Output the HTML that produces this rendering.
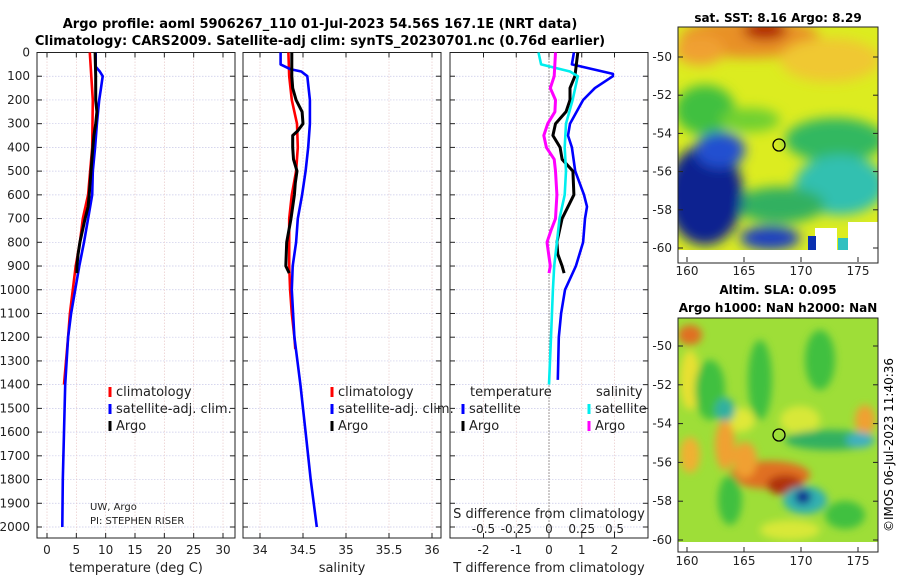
<!DOCTYPE html>
<html><head><meta charset="utf-8"><style>
body{margin:0;background:#fff;}
svg{display:block;font-family:"DejaVu Sans","Liberation Sans",sans-serif;}
</style></head><body>
<svg id="c" width="900" height="580" viewBox="0 0 900 580">
<defs>
<filter id="bl" x="-20%" y="-20%" width="140%" height="140%"><feGaussianBlur stdDeviation="6"/></filter>
<filter id="bl2" x="-20%" y="-20%" width="140%" height="140%"><feGaussianBlur stdDeviation="4"/></filter>
<clipPath id="m1"><rect x="678" y="27" width="200" height="223"/></clipPath>
<clipPath id="m2"><rect x="678" y="318" width="200" height="224"/></clipPath>
</defs>
<text x="320" y="28" text-anchor="middle" font-weight="bold" font-size="13">Argo profile: aoml 5906267_110 01-Jul-2023 54.56S 167.1E (NRT data)</text>
<text x="320" y="45" text-anchor="middle" font-weight="bold" font-size="13">Climatology: CARS2009. Satellite-adj clim: synTS_20230701.nc (0.76d earlier)</text>

<g id="maps">
<text x="778" y="22" text-anchor="middle" font-weight="bold" font-size="12">sat. SST: 8.16 Argo: 8.29</text>
<g clip-path="url(#m1)">
<rect x="678" y="27" width="200" height="223" fill="#dcec20"/>
<g filter="url(#bl)">
<ellipse cx="750" cy="38" rx="70" ry="20" fill="#e89028"/>
<ellipse cx="765" cy="30" rx="22" ry="10" fill="#b02000"/>
<ellipse cx="700" cy="50" rx="25" ry="15" fill="#f0a030"/>
<ellipse cx="830" cy="60" rx="50" ry="22" fill="#f0c830"/>
<ellipse cx="705" cy="110" rx="30" ry="25" fill="#40c040"/>
<ellipse cx="835" cy="140" rx="50" ry="22" fill="#30b860"/>
<ellipse cx="840" cy="185" rx="45" ry="30" fill="#30c0b0"/>
<ellipse cx="780" cy="205" rx="45" ry="18" fill="#30b060"/>
<ellipse cx="705" cy="195" rx="38" ry="50" fill="#0a2090"/>
<ellipse cx="720" cy="150" rx="25" ry="18" fill="#2050d0"/>
<ellipse cx="770" cy="238" rx="30" ry="12" fill="#1a40c0"/>
<ellipse cx="750" cy="120" rx="30" ry="12" fill="#70d030"/>
</g>
<rect x="815" y="228" width="22" height="22" fill="#fff"/>
<rect x="848" y="222" width="30" height="28" fill="#fff"/>
<rect x="838" y="238" width="10" height="12" fill="#30c0c0"/>
<rect x="808" y="236" width="8" height="14" fill="#0a30b0"/>
</g>
<rect x="678" y="27" width="200" height="236" fill="none" stroke="#222"/>
<circle cx="779" cy="145" r="6" fill="none" stroke="#000" stroke-width="1.3"/>
<text x="778" y="294" text-anchor="middle" font-weight="bold" font-size="12">Altim. SLA: 0.095</text>
<text x="778" y="312" text-anchor="middle" font-weight="bold" font-size="12">Argo h1000: NaN h2000: NaN</text>
<g clip-path="url(#m2)">
<rect x="678" y="318" width="200" height="224" fill="#9ede38"/>
<g filter="url(#bl2)">
<ellipse cx="690" cy="335" rx="12" ry="10" fill="#e07020"/>
<ellipse cx="690" cy="380" rx="10" ry="30" fill="#e8e030"/>
<ellipse cx="740" cy="420" rx="15" ry="12" fill="#e0e838"/>
<ellipse cx="800" cy="420" rx="20" ry="14" fill="#d8e838"/>
<ellipse cx="710" cy="390" rx="15" ry="30" fill="#40c040"/>
<ellipse cx="725" cy="410" rx="10" ry="12" fill="#30b0a0"/>
<ellipse cx="760" cy="380" rx="12" ry="40" fill="#40c040"/>
<ellipse cx="820" cy="360" rx="15" ry="30" fill="#40c040"/>
<ellipse cx="865" cy="420" rx="10" ry="15" fill="#f0a030"/>
<ellipse cx="830" cy="440" rx="45" ry="10" fill="#30b060"/>
<ellipse cx="860" cy="440" rx="14" ry="8" fill="#40b0c0"/>
<ellipse cx="770" cy="475" rx="40" ry="14" fill="#e07020"/>
<ellipse cx="785" cy="485" rx="18" ry="10" fill="#b03010"/>
<ellipse cx="745" cy="460" rx="12" ry="18" fill="#f0a030"/>
<ellipse cx="725" cy="445" rx="10" ry="25" fill="#f0a030"/>
<ellipse cx="805" cy="500" rx="22" ry="14" fill="#30b0b0"/>
<ellipse cx="803" cy="497" rx="8" ry="7" fill="#102090"/>
<ellipse cx="730" cy="500" rx="12" ry="25" fill="#40c040"/>
<ellipse cx="690" cy="455" rx="10" ry="18" fill="#f0b030"/>
<ellipse cx="845" cy="515" rx="20" ry="14" fill="#40c040"/>
<ellipse cx="790" cy="530" rx="30" ry="10" fill="#d8e838"/>
</g>
</g>
<rect x="678" y="318" width="200" height="234" fill="none" stroke="#222"/>
<circle cx="779" cy="435" r="6" fill="none" stroke="#000" stroke-width="1.3"/>
<text transform="translate(893,445) rotate(-90)" text-anchor="middle" font-size="12">©IMOS 06-Jul-2023 11:40:36</text>
</g>
<g id="axes"></g>
</svg>
<script>
// ---- data ----
const depthTicks = [0,100,200,300,400,500,600,700,800,900,1000,1100,1200,1300,1400,1500,1600,1700,1800,1900,2000];
const tempTicks = [0,5,10,15,20,25,30];
const salTicks = [34,34.5,35,35.5,36];
const salTickLabels = ["34","34.5","35","35.5","36"];
const tdiffTicks = [-2,-1,0,1,2];
const sdiffTickLabels = ["-0.5","-0.25","0","0.25","0.5"];
const sdiffTicks = [-0.5,-0.25,0,0.25,0.5];

const climTempDepth = [0,200,400,600,700,800,900,1000,1100,1200,1400];
const climTemp = [7.3,7.8,7.7,7.0,6.1,5.6,4.9,4.4,3.9,3.6,2.9];
const satTempDepth = [0,60,80,100,150,200,300,400,500,600,700,800,900,1000,1100,1200,1400,1600,1800,2000];
const satTemp = [8.3,8.3,9.0,9.5,9.2,8.9,8.5,8.2,7.8,7.7,7.0,6.3,5.5,4.8,4.1,3.6,3.1,2.9,2.7,2.6];
const argoTempDepth = [0,100,200,250,300,350,400,500,600,650,700,800,850,900,930];
const argoTemp = [8.2,8.3,8.3,8.5,8.3,8.0,7.8,7.5,7.2,7.0,6.5,5.6,5.3,5.1,5.1];

const climSalDepth = [0,100,200,300,400,500,600,700,800,900,1000,1100,1200,1250];
const climSal = [34.33,34.34,34.37,34.43,34.44,34.42,34.37,34.34,34.34,34.34,34.35,34.37,34.40,34.41];
const satSalDepth = [0,50,70,80,100,200,300,400,500,600,700,800,900,1000,1200,1400,1600,1800,2000];
const satSal = [34.24,34.24,34.35,34.48,34.55,34.58,34.58,34.56,34.53,34.49,34.44,34.42,34.38,34.37,34.40,34.47,34.53,34.59,34.66];
const argoSalDepth = [0,100,150,200,250,300,330,350,400,450,500,550,600,700,800,900,930];
const argoSal = [34.37,34.37,34.38,34.42,34.49,34.50,34.44,34.38,34.38,34.39,34.43,34.41,34.40,34.36,34.31,34.30,34.34];

const satTdiffDepth = [0,50,90,100,150,200,300,350,400,500,600,650,700,800,900,1000,1100,1200,1380];
const satTdiff = [0.76,0.7,1.95,1.95,1.4,1.04,0.64,0.58,0.7,0.8,1.07,1.16,1.1,1.04,0.82,0.49,0.37,0.3,0.27];
const argoTdiffDepth = [0,100,150,200,250,300,350,400,450,500,600,700,800,850,900,930];
const argoTdiff = [0.88,0.79,0.64,0.64,0.52,0.2,0.12,0.34,0.4,0.73,0.76,0.4,0.24,0.27,0.4,0.46];
const satSdiffDepth = [0,50,80,100,200,300,400,500,600,700,800,900,1000,1200,1400];
const satSdiff = [-0.08,-0.06,0.16,0.22,0.18,0.13,0.12,0.13,0.12,0.08,0.06,0.04,0.03,0.015,0.0];
const argoSdiffDepth = [0,100,150,200,250,300,350,400,450,500,600,700,750,800,900,930];
const argoSdiff = [0.05,0.04,0.01,0.05,0.045,-0.01,-0.04,-0.02,0.04,0.05,0.06,0.05,0.015,-0.015,0.01,0.0];

// ---- layout ----
const NS="http://www.w3.org/2000/svg";
const g=document.getElementById('axes');
const yTop=52.5, yBot=527;
const yS=d=>yTop+(yBot-yTop)*d/2000;
const panels=[
 {x0:37,x1:235,sx:v=>47+v*5.867,name:'temperature-panel'},
 {x0:243,x1:441,sx:v=>260+(v-34)*86,name:'salinity-panel'},
 {x0:450,x1:648,sx:v=>549+v*32.75,name:'difference-panel'}
];
const sxS=v=>549+v*131;
function el(t,a,p){const e=document.createElementNS(NS,t);for(const k in a)e.setAttribute(k,a[k]);(p||g).appendChild(e);return e;}
function txt(x,y,s,anchor,size,p){const e=el('text',{x:x,y:y,'text-anchor':anchor||'middle','font-size':size||12,fill:'#222'},p);e.textContent=s;return e;}

panels.forEach((P,i)=>{
 const pg=el('g',{});
 
 
 const ticks=i==0?tempTicks:i==1?salTicks:tdiffTicks;
 depthTicks.forEach(d=>{el('line',{x1:P.x0,x2:P.x1,y1:yS(d),y2:yS(d),stroke:'#c8c8e8','stroke-width':0.7,'stroke-dasharray':'1.5,1.5'},pg);
   el('line',{x1:P.x0,x2:P.x0+5,y1:yS(d),y2:yS(d),stroke:'#222'},pg);el('line',{x1:P.x1,x2:P.x1-5,y1:yS(d),y2:yS(d),stroke:'#222'},pg);});
 ticks.forEach(t=>{const x=P.sx(t);el('line',{x1:x,x2:x,y1:yTop,y2:538,stroke:'#e8c8c8','stroke-width':0.7,'stroke-dasharray':'1.5,1.5'},pg);
   el('line',{x1:x,x2:x,y1:538,y2:533,stroke:'#222'},pg);el('line',{x1:x,x2:x,y1:yTop,y2:yTop+5,stroke:'#222'},pg);});
 el('rect',{x:P.x0,y:yTop,width:P.x1-P.x0,height:538-yTop,fill:'none',stroke:'#222'},pg);
 if(i==0){depthTicks.forEach(d=>{const t=txt(30,yS(d)+4,String(d),'end',12,pg);});
   tempTicks.forEach(t=>txt(P.sx(t),554,String(t),'middle',12,pg));
   txt(136,572,'temperature (deg C)','middle',13,pg);}
 if(i==1){salTicks.forEach((t,k)=>txt(P.sx(t),554,salTickLabels[k],'middle',12,pg));
   txt(342,572,'salinity','middle',13,pg);}
 if(i==2){tdiffTicks.forEach(t=>txt(P.sx(t),554,String(t),'middle',12,pg));
   sdiffTicks.forEach((t,k)=>txt(sxS(t),533,sdiffTickLabels[k],'middle',12,pg));
   txt(549,518,'S difference from climatology','middle',13,pg);
   txt(549,572,'T difference from climatology','middle',13,pg);
   el('line',{x1:549,x2:549,y1:yTop,y2:538,stroke:'#444','stroke-dasharray':'1,2'},pg);}
});
function line(xs,ds,fx,col,name,w){
 const pts=xs.map((v,k)=>fx(v).toFixed(1)+','+yS(ds[k]).toFixed(1)).join(' ');
 const p=el('polyline',{points:pts,fill:'none',stroke:col,'stroke-width':w||2.6,'stroke-linejoin':'round'});
 
 
}
const P0=panels[0].sx,P1=panels[1].sx,P2=panels[2].sx;
line(climTemp,climTempDepth,P0,'#f00','temp-climatology-line');
line(satTemp,satTempDepth,P0,'#00f','temp-satellite-line');
line(argoTemp,argoTempDepth,P0,'#000','temp-argo-line',3);
line(climSal,climSalDepth,P1,'#f00','sal-climatology-line');
line(satSal,satSalDepth,P1,'#00f','sal-satellite-line');
line(argoSal,argoSalDepth,P1,'#000','sal-argo-line',3);
line(satTdiff,satTdiffDepth,P2,'#00f','tdiff-satellite-line');
line(argoTdiff,argoTdiffDepth,P2,'#000','tdiff-argo-line',3);
line(satSdiff,satSdiffDepth,sxS,'#0ee','sdiff-satellite-line');
line(argoSdiff,argoSdiffDepth,sxS,'#f0f','sdiff-argo-line',3);

function leg(x,y,col,label,name){
 const lg=el('g',{});
 
 
 el('line',{x1:x,x2:x,y1:y-9,y2:y+1,stroke:col,'stroke-width':3},lg);
 txt(x+6,y,label,'start',13,lg);
}
leg(110,396,'#f00','climatology','legend-temp-climatology');
leg(110,413,'#00f','satellite-adj. clim.','legend-temp-satellite');
leg(110,430,'#000','Argo','legend-temp-argo');
leg(332,396,'#f00','climatology','legend-sal-climatology');
leg(332,413,'#00f','satellite-adj. clim.','legend-sal-satellite');
leg(332,430,'#000','Argo','legend-sal-argo');
txt(470,396,'temperature','start',13);
txt(596,396,'salinity','start',13);
leg(463,413,'#00f','satellite','legend-tdiff-satellite');
leg(463,430,'#000','Argo','legend-tdiff-argo');
leg(589,413,'#0ee','satellite','legend-sdiff-satellite');
leg(589,430,'#f0f','Argo','legend-sdiff-argo');
txt(90,510,'UW, Argo','start',10);
txt(90,524,'PI: STEPHEN RISER','start',10);

const mapLon=[160,165,170,175], mapLat=[-50,-52,-54,-56,-58,-60];
const lonX=v=>687+(v-160)*11.4;
[[57,248,262,27],[346,540,552,318]].forEach(([ya,yb,bot,top])=>{
 mapLat.forEach(l=>{const y=ya+(yb-ya)*(-50-l)/10;txt(672,y+4,String(l),'end',12);
  el('line',{x1:873,x2:878,y1:y,y2:y,stroke:'#222'});el('line',{x1:678,x2:683,y1:y,y2:y,stroke:'#222'});});
 mapLon.forEach(l=>{const x=lonX(l);txt(x,bot+13,String(l),'middle',12);
  el('line',{x1:x,x2:x,y1:bot,y2:bot-5,stroke:'#222'});});
});
</script>
</body></html>
